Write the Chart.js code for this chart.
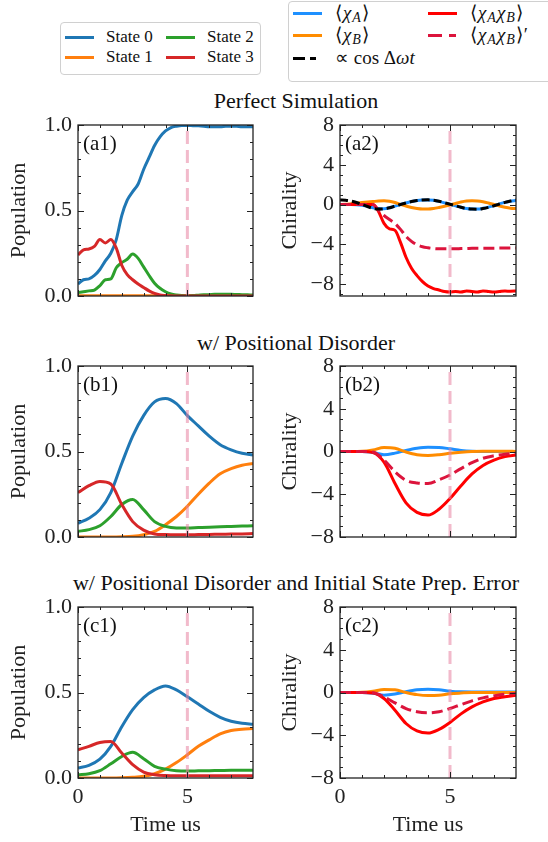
<!DOCTYPE html>
<html>
<head>
<meta charset="utf-8">
<script src="https://cdn.jsdelivr.net/npm/chart.js@4.4.1/dist/chart.umd.min.js"></script>
<style>
  body { margin: 0; background: #fff; }
  #fig { position: relative; width: 548px; height: 842px; overflow: hidden; font-family: "Liberation Serif", serif; color: #111; }
  #fig canvas { position: absolute; }
  .row-title { position: absolute; left: 22px; width: 548px; text-align: center; font-size: 22px; line-height: 24px; white-space: nowrap; }
  .legend { position: absolute; border: 1.5px solid #d0d0d0; border-radius: 4px; background: #fff; box-sizing: border-box; }
  .handle { position: absolute; width: 29px; height: 3px; margin-top: -1.5px; }
  .entry { position: absolute; font-size: 17px; line-height: 20px; margin-top: -10px; white-space: nowrap; }
  .math { font-size: 19px; letter-spacing: 1px; }
  .math sub { font-size: 14px; vertical-align: -3px; line-height: 0; }
</style>
</head>
<body>
<div id="fig">
  <div class="legend" style="left:60px;top:22px;width:201px;height:53px"></div>
  <div class="handle" style="left:65px;top:37px;background:#1f77b4"></div>
  <div class="entry" style="left:106px;top:37px">State 0</div>
  <div class="handle" style="left:65px;top:57px;background:#ff7f0e"></div>
  <div class="entry" style="left:106px;top:57px">State 1</div>
  <div class="handle" style="left:166px;top:37px;background:#2ca02c"></div>
  <div class="entry" style="left:207px;top:37px">State 2</div>
  <div class="handle" style="left:166px;top:57px;background:#d62728"></div>
  <div class="entry" style="left:207px;top:57px">State 3</div>

  <div class="legend" style="left:288px;top:1px;width:290px;height:81px"></div>
  <div class="handle" style="left:293px;top:13px;background:#1e90ff"></div>
  <div class="entry math" style="left:335px;top:13px">⟨<i>χ</i><sub><i>A</i></sub>⟩</div>
  <div class="handle" style="left:293px;top:35px;background:#ff8c00"></div>
  <div class="entry math" style="left:335px;top:35px">⟨<i>χ</i><sub><i>B</i></sub>⟩</div>
  <div class="handle" style="left:293px;top:58px;background:linear-gradient(to right,#000 0 12px,transparent 12px 17px,#000 17px 23px,transparent 23px)"></div>
  <div class="entry math" style="left:335px;top:58px;letter-spacing:0">∝ cos Δ<i>ωt</i></div>
  <div class="handle" style="left:428px;top:13px;background:#ff0000"></div>
  <div class="entry math" style="left:470px;top:13px">⟨<i>χ</i><sub><i>A</i></sub><i>χ</i><sub><i>B</i></sub>⟩</div>
  <div class="handle" style="left:428px;top:35px;background:linear-gradient(to right,#dc143c 0 14px,transparent 14px 21px,#dc143c 21px 28px,transparent 28px)"></div>
  <div class="entry math" style="left:470px;top:35px">⟨<i>χ</i><sub><i>A</i></sub><i>χ</i><sub><i>B</i></sub>⟩′</div>

  <div class="row-title" style="top:89px">Perfect Simulation</div>
  <div class="row-title" style="top:331px">w/ Positional Disorder</div>
  <div class="row-title" style="top:571px">w/ Positional Disorder and Initial State Prep. Error</div>

  <canvas id="a1" width="263" height="211" style="left:0;top:105px"></canvas>
  <canvas id="a2" width="256" height="211" style="left:270px;top:105px"></canvas>
  <canvas id="b1" width="263" height="211" style="left:0;top:346px"></canvas>
  <canvas id="b2" width="256" height="211" style="left:270px;top:346px"></canvas>
  <canvas id="c1" width="263" height="255" style="left:0;top:587px"></canvas>
  <canvas id="c2" width="256" height="255" style="left:270px;top:587px"></canvas>
</div>
<script>
// time grids (us)
const timeFine = [0, 0.25, 0.5, 0.75, 1, 1.25, 1.5, 1.75, 2, 2.25, 2.5, 2.75, 3, 3.25, 3.5, 3.75, 4,
    4.25, 4.5, 4.75, 5, 5.25, 5.5, 5.75, 6, 6.25, 6.5, 6.75, 7, 7.25, 7.5, 7.75, 8];
const timeCoarse = [0, 0.5, 1, 1.5, 2, 2.5, 3, 3.5, 4, 4.5, 5, 5.5, 6, 6.5, 7, 7.5, 8];

// ticks
const xMajorTicks = [0, 5];
const xMinorTicks = [1, 2, 3, 4, 6, 7];
const popTicks = [0, 0.5, 1];
const popMinorTicks = [0.1, 0.2, 0.3, 0.4, 0.6, 0.7, 0.8, 0.9];
const chiTicks = [-8, -4, 0, 4, 8];
const chiMinorTicks = [-9, -7, -6, -5, -3, -2, -1, 1, 2, 3, 5, 6, 7];
const markerTime = 5;

// (a) perfect simulation, sampled on timeFine
const a1State0 = [0.07, 0.095, 0.10, 0.12, 0.155, 0.205, 0.25, 0.33, 0.47, 0.56, 0.61, 0.655, 0.74, 0.81, 0.88, 0.93,
    0.965, 0.985, 0.993, 0.997, 0.997, 0.996, 0.995, 0.993, 0.99, 0.99, 0.99, 0.992, 0.993, 0.992, 0.99, 0.99, 0.99];
const a1State1 = [0.002, 0.002, 0.002, 0.002, 0.002, 0.002, 0.002, 0.002, 0.002, 0.002, 0.002, 0.002, 0.002, 0.002, 0.002, 0.002,
    0.002, 0.002, 0.002, 0.002, 0.002, 0.002, 0.002, 0.002, 0.002, 0.002, 0.002, 0.002, 0.002, 0.002, 0.002, 0.002, 0.002];
const a1State2 = [0.02, 0.025, 0.03, 0.035, 0.06, 0.095, 0.10, 0.165, 0.195, 0.215, 0.245, 0.22, 0.17, 0.12, 0.075, 0.045,
    0.025, 0.012, 0.006, 0.003, 0.002, 0.003, 0.005, 0.007, 0.008, 0.01, 0.01, 0.01, 0.01, 0.009, 0.008, 0.007, 0.006];
const a1State3 = [0.24, 0.27, 0.275, 0.29, 0.33, 0.31, 0.33, 0.28, 0.18, 0.125, 0.095, 0.07, 0.05, 0.03, 0.015, 0.006,
    0.003, 0.001, 0, 0, 0, 0, 0, 0, 0, 0, 0, 0, 0, 0, 0, 0, 0];
const a2ChiA = [0, 0, 0, -0.02, -0.08, -0.18, -0.32, -0.4, -0.42, -0.33, -0.16, 0, 0.15, 0.3, 0.4, 0.45,
    0.46, 0.42, 0.32, 0.17, 0.02, -0.13, -0.28, -0.4, -0.45, -0.45, -0.38, -0.26, -0.1, 0.07, 0.22, 0.33, 0.4];
const a2ChiB = [0, 0.02, 0.08, 0.15, 0.2, 0.25, 0.3, 0.35, 0.37, 0.33, 0.2, 0.02, -0.15, -0.3, -0.4, -0.45,
    -0.45, -0.4, -0.3, -0.18, -0.05, 0.1, 0.25, 0.35, 0.38, 0.36, 0.28, 0.15, 0, -0.15, -0.28, -0.37, -0.4];
const a2ChiAB = [0, 0, 0, 0, 0, 0, 0, -0.7, -1.9, -2.45, -2.6, -3.8, -5.3, -6.4, -7.15, -7.75,
    -8.2, -8.45, -8.6, -8.75, -8.8, -8.75, -8.8, -8.7, -8.75, -8.8, -8.7, -8.75, -8.8, -8.75, -8.7, -8.72, -8.7];
const a2ChiABPrime = [0, 0, 0, 0, 0, 0, 0, -0.6, -1.1, -1.5, -1.9, -2.5, -3.2, -3.7, -4.05, -4.25,
    -4.35, -4.42, -4.45, -4.45, -4.45, -4.45, -4.43, -4.42, -4.4, -4.4, -4.4, -4.4, -4.4, -4.38, -4.38, -4.38, -4.38];
const a2Cos = [0.45, 0.43, 0.35, 0.2, 0, -0.2, -0.38, -0.45, -0.43, -0.33, -0.15, 0, 0.15, 0.3, 0.4, 0.45,
    0.47, 0.43, 0.33, 0.18, 0.03, -0.12, -0.28, -0.4, -0.46, -0.47, -0.4, -0.28, -0.12, 0.05, 0.22, 0.35, 0.45];

// (b) positional disorder, sampled on timeCoarse
const b1State0 = [0.08, 0.11, 0.16, 0.26, 0.43, 0.59, 0.71, 0.79, 0.81, 0.78, 0.71, 0.65, 0.59, 0.54, 0.51, 0.49, 0.48];
const b1State1 = [0, 0, 0, 0, 0.001, 0.004, 0.014, 0.033, 0.072, 0.12, 0.18, 0.25, 0.315, 0.37, 0.40, 0.42, 0.43];
const b1State2 = [0.033, 0.043, 0.066, 0.12, 0.19, 0.22, 0.16, 0.09, 0.062, 0.053, 0.053, 0.055, 0.057, 0.06, 0.062, 0.064, 0.066];
const b1State3 = [0.26, 0.30, 0.325, 0.31, 0.19, 0.09, 0.04, 0.018, 0.014, 0.013, 0.013, 0.014, 0.015, 0.016, 0.017, 0.018, 0.02];
const b2ChiA = [0, 0, 0, -0.1, -0.3, -0.15, 0.1, 0.3, 0.4, 0.38, 0.25, 0.1, 0.02, 0, 0, 0, 0];
const b2ChiB = [0, 0, 0.02, 0.15, 0.37, 0.3, -0.05, -0.3, -0.37, -0.3, -0.17, -0.07, 0, 0.02, 0.02, 0.02, 0.01];
const b2ChiAB = [0, 0, 0, -0.1, -1.0, -3.0, -4.8, -5.7, -5.95, -5.4, -4.4, -3.2, -2.1, -1.3, -0.8, -0.48, -0.32];
const b2ChiABPrime = [0, 0, 0, -0.05, -0.8, -1.9, -2.7, -2.95, -3.0, -2.65, -2.2, -1.6, -1.05, -0.63, -0.4, -0.25, -0.16];

// (c) positional disorder + initial state prep. error, sampled on timeCoarse
const c1State0 = [0.058, 0.074, 0.11, 0.185, 0.30, 0.40, 0.47, 0.515, 0.538, 0.515, 0.475, 0.433, 0.39, 0.355, 0.332, 0.32, 0.315];
const c1State1 = [0, 0, 0, 0, 0.001, 0.004, 0.01, 0.025, 0.052, 0.09, 0.136, 0.185, 0.223, 0.258, 0.278, 0.285, 0.29];
const c1State2 = [0.019, 0.025, 0.043, 0.083, 0.126, 0.15, 0.113, 0.068, 0.052, 0.043, 0.041, 0.042, 0.043, 0.044, 0.045, 0.045, 0.045];
const c1State3 = [0.165, 0.185, 0.208, 0.214, 0.146, 0.078, 0.035, 0.019, 0.014, 0.013, 0.013, 0.013, 0.013, 0.013, 0.013, 0.013, 0.013];
const c2ChiA = [0, 0, 0, -0.07, -0.25, -0.15, 0.08, 0.25, 0.3, 0.25, 0.12, 0.06, 0.05, 0.05, 0.05, 0.05, 0.05];
const c2ChiB = [0, 0, 0.02, 0.12, 0.28, 0.25, 0, -0.2, -0.28, -0.25, -0.12, -0.05, 0, 0, 0, 0, 0];
const c2ChiAB = [0, 0, 0, -0.05, -0.56, -1.66, -2.9, -3.6, -3.8, -3.45, -2.8, -2.0, -1.35, -0.88, -0.56, -0.4, -0.25];
const c2ChiABPrime = [0, 0, 0, -0.03, -0.4, -0.97, -1.5, -1.8, -1.9, -1.8, -1.5, -1.13, -0.78, -0.5, -0.31, -0.16, -0.1];

const stateColors = ['#1f77b4', '#ff7f0e', '#2ca02c', '#d62728'];
const serif = '"Liberation Serif", "Times New Roman", serif';

Chart.defaults.font.family = serif;
Chart.defaults.font.size = 22;
Chart.defaults.color = '#222';

// frame with inward ticks on all four sides, plus the panel tag
const frameAndTicks = {
    id: 'frameAndTicks',
    afterDatasetsDraw(chart, args, opts) {
        const { ctx, chartArea: a, scales: { x, y } } = chart;
        ctx.save();
        ctx.strokeStyle = '#222';
        ctx.lineWidth = 1;
        ctx.beginPath();
        function xMarks(vals, len) {
            vals.filter(v => v >= x.min && v <= x.max).forEach(v => {
                const px = Math.round(x.getPixelForValue(v)) + 0.5;
                ctx.moveTo(px, a.bottom); ctx.lineTo(px, a.bottom - len);
                ctx.moveTo(px, a.top); ctx.lineTo(px, a.top + len);
            });
        }
        function yMarks(vals, len) {
            vals.filter(v => v >= y.min && v <= y.max).forEach(v => {
                const py = Math.round(y.getPixelForValue(v)) + 0.5;
                ctx.moveTo(a.left, py); ctx.lineTo(a.left + len, py);
                ctx.moveTo(a.right, py); ctx.lineTo(a.right - len, py);
            });
        }
        xMarks(opts.xMajor, 6);
        xMarks(opts.xMinor, 3);
        yMarks(opts.yMajor, 6);
        yMarks(opts.yMinor, 3);
        ctx.stroke();
        ctx.lineWidth = 1.3;
        ctx.strokeRect(a.left, a.top, a.right - a.left, a.bottom - a.top);
        ctx.fillStyle = '#111';
        ctx.font = '21px ' + serif;
        ctx.textBaseline = 'middle';
        ctx.fillText(opts.tag, a.left + 5, a.top + 19);
        ctx.restore();
    }
};

function line(data, color, order, dash) {
    return {
        data: data,
        borderColor: color,
        borderWidth: 3,
        borderDash: dash || [],
        pointRadius: 0,
        fill: false,
        cubicInterpolationMode: 'monotone',
        order: order
    };
}

function markerLine(yMin, yMax) {
    return {
        data: [{ x: markerTime, y: yMin }, { x: markerTime, y: yMax }],
        borderColor: 'rgba(232, 130, 160, 0.55)',
        borderWidth: 3,
        borderDash: [13, 6],
        pointRadius: 0,
        fill: false,
        order: 0
    };
}

function populationSets(s0, s1, s2, s3) {
    return [
        markerLine(0, 1),
        line(s3, stateColors[3], 1),
        line(s2, stateColors[2], 2),
        line(s1, stateColors[1], 3),
        line(s0, stateColors[0], 4)
    ];
}

function chiralitySets(yMin, chiA, chiB, chiAB, chiABPrime, cos) {
    const sets = [
        markerLine(yMin, 8),
        line(chiABPrime, '#dc143c', 2, [11, 5]),
        line(chiAB, '#ff0000', 3),
        line(chiB, '#ff8c00', 4),
        line(chiA, '#1e90ff', 5)
    ];
    if (cos) sets.push(line(cos, '#000000', 1, [8, 4]));
    return sets;
}

function makeChart(id, labels, datasets, cfg) {
    const isPop = cfg.kind === 'pop';
    new Chart(document.getElementById(id), {
        type: 'line',
        data: { labels: labels, datasets: datasets },
        plugins: [frameAndTicks],
        options: {
            responsive: false,
            animation: false,
            devicePixelRatio: 1,
            layout: { padding: { top: 20, right: 10, left: 0, bottom: 0 } },
            plugins: {
                legend: { display: false },
                tooltip: { enabled: false },
                frameAndTicks: {
                    xMajor: xMajorTicks,
                    xMinor: xMinorTicks,
                    yMajor: isPop ? popTicks : chiTicks,
                    yMinor: isPop ? popMinorTicks : chiMinorTicks,
                    tag: cfg.tag
                }
            },
            scales: {
                x: {
                    type: 'linear',
                    min: 0,
                    max: 8,
                    afterBuildTicks: s => { s.ticks = xMajorTicks.map(v => ({ value: v })); },
                    afterFit: s => { s.height = cfg.showX ? 64 : 20; },
                    grid: { display: false, drawTicks: false },
                    border: { display: false },
                    ticks: { display: cfg.showX, padding: 6, maxRotation: 0, callback: v => String(v) },
                    title: { display: cfg.showX, text: 'Time us', padding: { top: 0, bottom: 4 } }
                },
                y: {
                    min: cfg.yMin,
                    max: cfg.yMax,
                    afterBuildTicks: s => { s.ticks = (isPop ? popTicks : chiTicks).map(v => ({ value: v })); },
                    afterFit: s => { s.width = cfg.yWidth; },
                    grid: { display: false, drawTicks: false },
                    border: { display: false },
                    ticks: {
                        padding: 6,
                        callback: v => isPop ? v.toFixed(1) : (v < 0 ? '\u2212' + Math.abs(v) : String(v))
                    },
                    title: { display: true, text: isPop ? 'Population' : 'Chirality', padding: { top: cfg.titlePad, bottom: 0 } }
                }
            }
        }
    });
}

makeChart('a1', timeFine, populationSets(a1State0, a1State1, a1State2, a1State3),
    { kind: 'pop', yMin: 0, yMax: 1, tag: '(a1)', showX: false, yWidth: 78, titlePad: 6 });
makeChart('a2', timeFine, chiralitySets(-9.2, a2ChiA, a2ChiB, a2ChiAB, a2ChiABPrime, a2Cos),
    { kind: 'chi', yMin: -9.2, yMax: 8, tag: '(a2)', showX: false, yWidth: 70, titlePad: 7 });
makeChart('b1', timeCoarse, populationSets(b1State0, b1State1, b1State2, b1State3),
    { kind: 'pop', yMin: 0, yMax: 1, tag: '(b1)', showX: false, yWidth: 78, titlePad: 6 });
makeChart('b2', timeCoarse, chiralitySets(-8, b2ChiA, b2ChiB, b2ChiAB, b2ChiABPrime),
    { kind: 'chi', yMin: -8, yMax: 8, tag: '(b2)', showX: false, yWidth: 70, titlePad: 7 });
makeChart('c1', timeCoarse, populationSets(c1State0, c1State1, c1State2, c1State3),
    { kind: 'pop', yMin: 0, yMax: 1, tag: '(c1)', showX: true, yWidth: 78, titlePad: 6 });
makeChart('c2', timeCoarse, chiralitySets(-8, c2ChiA, c2ChiB, c2ChiAB, c2ChiABPrime),
    { kind: 'chi', yMin: -8, yMax: 8, tag: '(c2)', showX: true, yWidth: 70, titlePad: 7 });
</script>
</body>
</html>
